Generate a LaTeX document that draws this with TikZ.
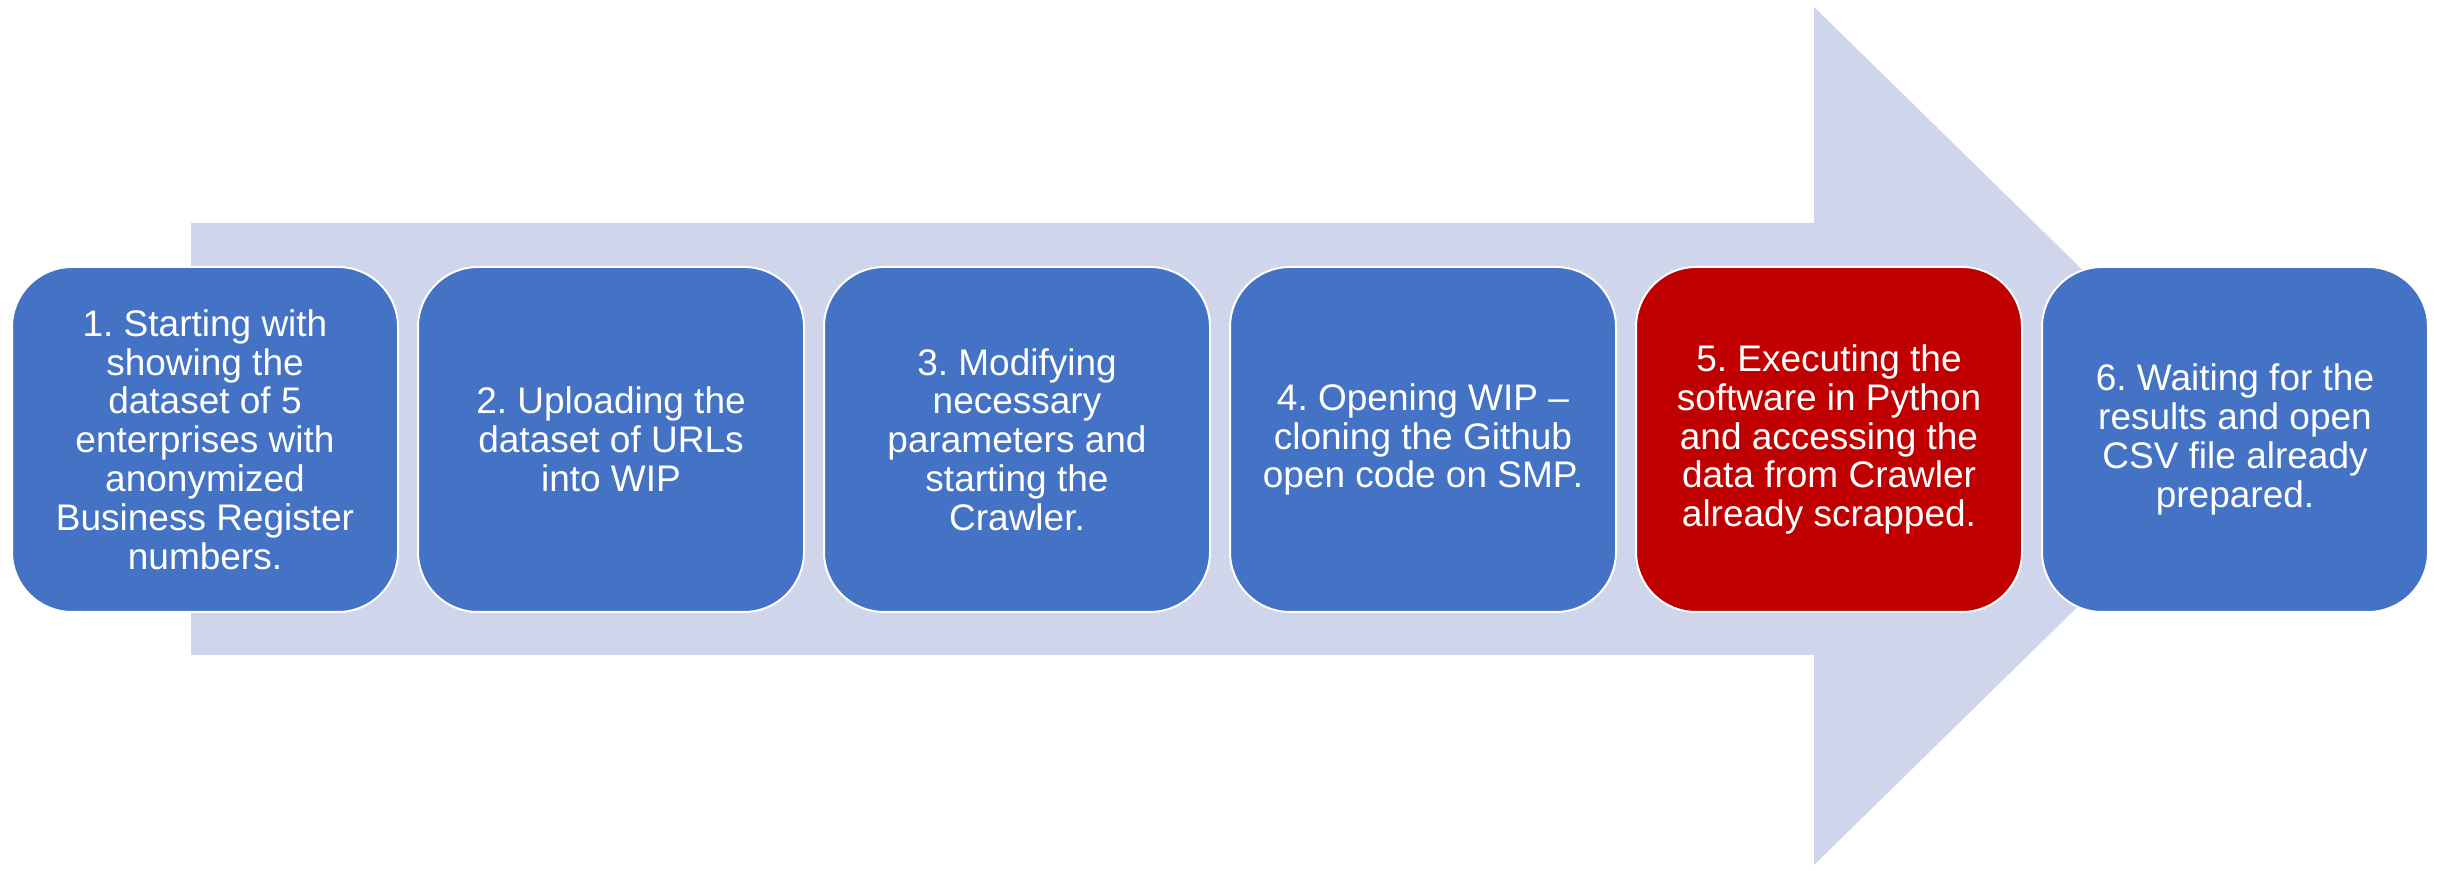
\documentclass[tikz,border=0pt]{standalone}
\usepackage{fontspec}
\setmainfont{Liberation Sans}
\frenchspacing
\definecolor{arrowfill}{HTML}{CFD5EA}
\definecolor{stepblue}{HTML}{4472C4}
\definecolor{stepred}{HTML}{C00000}
\begin{document}
\begin{tikzpicture}[x=0.5pt,y=0.5pt,
  stepbox/.style={draw=white, line width=1pt, fill=stepblue, rounded corners=30pt,
    minimum width=193pt, minimum height=172.5pt, inner sep=0pt,
    text=white, align=center,
    font=\fontsize{18.5pt}{19.4pt}\selectfont},
  hot/.style={fill=stepred}]
  % canvas
  \useasboundingbox (0,0) rectangle (2437,871);
  \fill[white] (0,0) rectangle (2437,871);
  % large background arrow
  \fill[arrowfill] (191,648) -- (1814,648) -- (1814,864) -- (2252,435)
    -- (1814,6) -- (1814,216) -- (191,216) -- cycle;
  % process steps
  \node[stepbox] (s1) at (205,431.5) {1. Starting with\\showing the\\dataset of 5\\enterprises with\\anonymized\\Business Register\\numbers.};
  \node[stepbox] (s2) at (611,431.5) {2. Uploading the\\dataset of URLs\\into WIP};
  \node[stepbox] (s3) at (1017,431.5) {3. Modifying\\necessary\\parameters and\\starting the\\Crawler.};
  \node[stepbox] (s4) at (1423,431.5) {4. Opening WIP –\\cloning the Github\\open code on SMP.};
  \node[stepbox,hot] (s5) at (1829,431.5) {5. Executing the\\software in Python\\and accessing the\\data from Crawler\\already scrapped.};
  \node[stepbox] (s6) at (2235,431.5) {6. Waiting for the\\results and open\\CSV file already\\prepared.};
\end{tikzpicture}
\end{document}
